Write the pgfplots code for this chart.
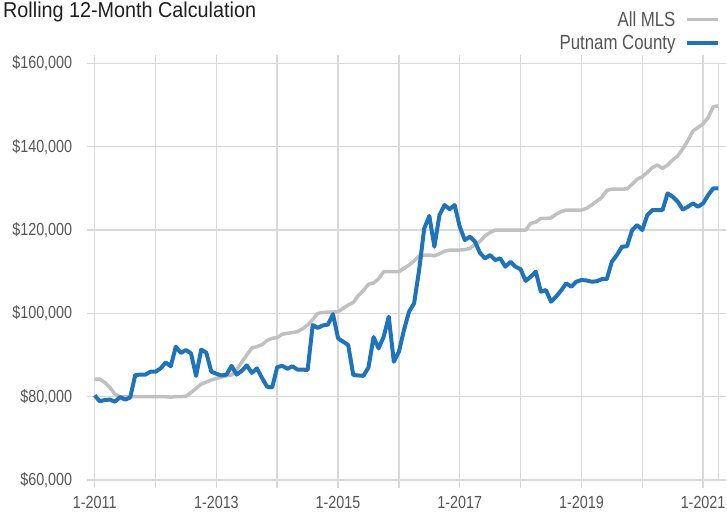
\documentclass[border=0pt]{standalone}
\usepackage{pgfplots}
\pgfplotsset{compat=1.18}
\usepackage{pgfplotstable}
\usepackage{fontspec}
\setmainfont{Liberation Sans}[FakeStretch=0.82]
\newfontfamily\titlefont{Liberation Sans}[FakeStretch=0.92]
\definecolor{mlsgray}{RGB}{192,192,192}
\definecolor{putblue}{RGB}{29,116,187}
\definecolor{gridgray}{RGB}{217,217,217}
\definecolor{labgray}{RGB}{85,85,85}

\pgfplotstableread{
i mls putnam
0 84200 80300
1 84200 78900
2 83400 79200
3 82200 79300
4 80600 78800
5 80000 79900
6 80000 79300
7 80000 79800
8 80000 85200
9 80000 85300
10 80000 85300
11 80000 86000
12 80000 86000
13 80000 86800
14 80000 88200
15 79900 87300
16 80000 92000
17 80000 90500
18 80100 91200
19 81000 90400
20 82000 85000
21 83000 91300
22 83500 90600
23 84000 86000
24 84400 85500
25 84700 85100
26 85000 85300
27 85200 87400
28 86500 85300
29 88300 86200
30 90000 87500
31 91700 85700
32 92000 86800
33 92500 84500
34 93500 82400
35 94000 82200
36 94200 87100
37 95000 87400
38 95200 86700
39 95400 87300
40 95600 86500
41 96300 86500
42 97200 86400
43 98500 97200
44 100000 96500
45 100200 97100
46 100300 97300
47 100300 99800
48 100400 94000
49 101200 93200
50 102000 92400
51 102600 85200
52 104300 85100
53 105500 85000
54 107000 87000
55 107300 94300
56 108300 91600
57 110000 94400
58 110000 99200
59 110000 88400
60 110000 90800
61 110800 96000
62 111600 100400
63 112600 102400
64 113800 110500
65 114000 120400
66 114000 123400
67 113800 116000
68 114300 123600
69 114900 126000
70 115200 125000
71 115200 126000
72 115200 120800
73 115300 117600
74 115600 118400
75 116500 117200
76 117300 114500
77 118600 113200
78 119400 114000
79 120000 112800
80 120000 113200
81 120000 111200
82 120000 112400
83 120000 111200
84 120000 110600
85 120000 107800
86 121600 108800
87 121900 110000
88 122800 105200
89 122800 105600
90 122900 102800
91 123800 104000
92 124400 105500
93 124800 107200
94 124800 106400
95 124800 107600
96 124800 108000
97 125200 107900
98 126000 107600
99 126900 107700
100 127800 108200
101 129500 108200
102 129800 112400
103 129800 114000
104 129800 116000
105 129900 116100
106 131000 120000
107 132200 121200
108 132800 120000
109 133800 123600
110 135000 124800
111 135600 124800
112 134800 124800
113 135600 128800
114 136800 128000
115 137800 126800
116 139500 124900
117 141500 125600
118 143800 126400
119 144600 125600
120 145500 126400
121 147000 128400
122 149600 130000
123 149800 130000
}\datatable

\begin{document}
\begin{tikzpicture}[x=1pt,y=1pt]
\path[use as bounding box] (0,0) rectangle (727,514);
\node[anchor=base west, inner sep=0pt, font=\titlefont\fontsize{21.5}{24}\selectfont, text=black!88] at (3,496) {Rolling 12-Month Calculation};
\begin{axis}[
  at={(94.7pt,34pt)}, anchor=south west,
  scale only axis, width=623.6pt, height=416.6pt,
  xmin=0, xmax=123, ymin=60000, ymax=160000,
  xtick={0,12,...,120},
  xticklabels={1-2011,,1-2013,,1-2015,,1-2017,,1-2019,,1-2021},
  ytick={60000,80000,...,160000},
  yticklabels={{\$60,000},{\$80,000},{\$100,000},{\$120,000},{\$140,000},{\$160,000}},
  scaled y ticks=false,
  grid=major,
  grid style={draw=gridgray, line width=1.5pt},
  axis line style={draw=gridgray, line width=1.5pt},
  tick align=outside,
  major tick length=8pt,
  tick style={draw=gridgray, line width=1.5pt},
  tick label style={font=\fontsize{17.5}{20}\selectfont, text=labgray},
  xticklabel style={yshift=-5pt},
  yticklabel style={xshift=-11pt},
  legend plot pos=right,
  legend cell align=right,
  legend style={at={(axis description cs:1.003,1)}, anchor=south east, yshift=11pt,
    draw=none, fill=none, inner sep=0pt, row sep=4.3pt,
    font=\fontsize{20.5}{23}\selectfont, text=labgray,
    nodes={inner sep=1.5pt}},
  legend image code/.code={\draw[#1] (0pt,0pt) -- (31pt,0pt);},
  clip=false,
]
\addplot[mlsgray, line width=3.5pt, line join=round] table[x=i, y=mls] {\datatable};
\addlegendentry{All MLS\hspace*{8pt}}
\addplot[putblue, line width=4pt, line join=round] table[x=i, y=putnam] {\datatable};
\addlegendentry{Putnam County\hspace*{8pt}}
\end{axis}
\end{tikzpicture}
\end{document}
